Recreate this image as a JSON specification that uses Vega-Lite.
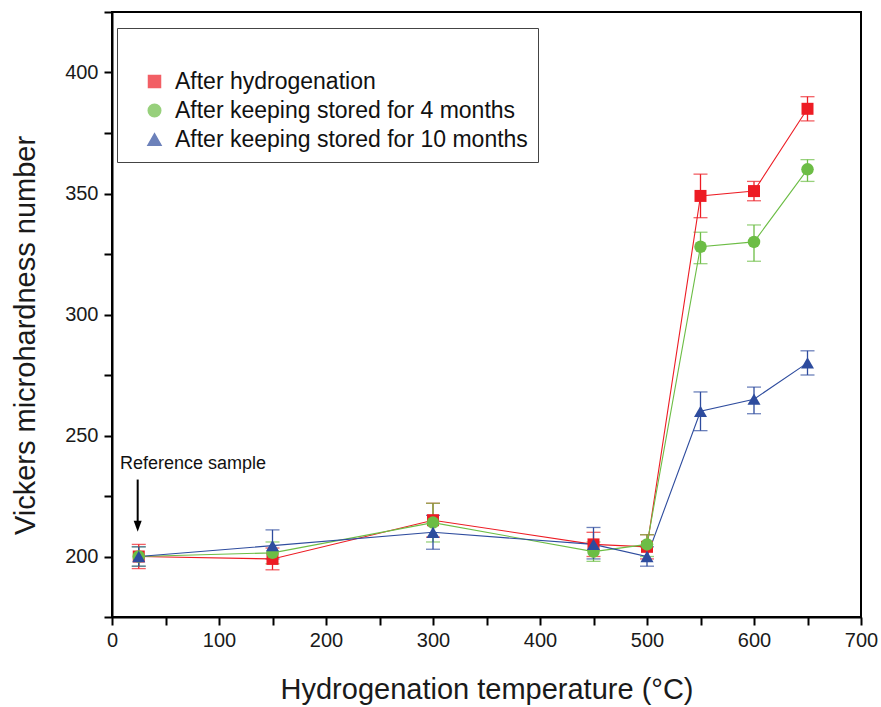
{
  "$schema": "https://vega.github.io/schema/vega-lite/v6.json",
  "width": 749,
  "height": 605,
  "autosize": {"type": "none"},
  "padding": {"left": 112, "top": 12, "right": 20, "bottom": 90},
  "background": "white",
  "config": {
    "font": "Liberation Sans",
    "view": {"stroke": "black", "strokeWidth": 2},
    "axis": {
      "grid": false,
      "domainColor": "black",
      "domainWidth": 2,
      "tickColor": "black",
      "tickWidth": 2,
      "labelColor": "#1a1a1a",
      "titleColor": "#1a1a1a",
      "labelFontSize": 20,
      "titleFontSize": 29,
      "titleFontWeight": "normal",
      "labelFont": "Liberation Sans",
      "titleFont": "Liberation Sans"
    }
  },
  "datasets": {
    "hv": [
      {"series": "After hydrogenation", "temp": 25, "hv": 200, "lo": 195, "hi": 205},
      {"series": "After hydrogenation", "temp": 150, "hv": 199, "lo": 194.5, "hi": 203.5},
      {"series": "After hydrogenation", "temp": 300, "hv": 215, "lo": 208, "hi": 222},
      {"series": "After hydrogenation", "temp": 450, "hv": 205, "lo": 200, "hi": 210},
      {"series": "After hydrogenation", "temp": 500, "hv": 204, "lo": 199, "hi": 209},
      {"series": "After hydrogenation", "temp": 550, "hv": 349, "lo": 340, "hi": 358},
      {"series": "After hydrogenation", "temp": 600, "hv": 351, "lo": 347, "hi": 355},
      {"series": "After hydrogenation", "temp": 650, "hv": 385, "lo": 380, "hi": 390},
      {"series": "After keeping stored for 4 months", "temp": 25, "hv": 200, "lo": 196, "hi": 204},
      {"series": "After keeping stored for 4 months", "temp": 150, "hv": 201.5, "lo": 197, "hi": 206},
      {"series": "After keeping stored for 4 months", "temp": 300, "hv": 214, "lo": 206, "hi": 222},
      {"series": "After keeping stored for 4 months", "temp": 450, "hv": 202, "lo": 198, "hi": 206},
      {"series": "After keeping stored for 4 months", "temp": 500, "hv": 205, "lo": 200, "hi": 209},
      {"series": "After keeping stored for 4 months", "temp": 550, "hv": 328, "lo": 321, "hi": 334},
      {"series": "After keeping stored for 4 months", "temp": 600, "hv": 330, "lo": 322, "hi": 337},
      {"series": "After keeping stored for 4 months", "temp": 650, "hv": 360, "lo": 355, "hi": 364},
      {"series": "After keeping stored for 10 months", "temp": 25, "hv": 200, "lo": 196, "hi": 204},
      {"series": "After keeping stored for 10 months", "temp": 150, "hv": 204.5, "lo": 199, "hi": 211},
      {"series": "After keeping stored for 10 months", "temp": 300, "hv": 210, "lo": 203, "hi": 217},
      {"series": "After keeping stored for 10 months", "temp": 450, "hv": 205, "lo": 199, "hi": 212},
      {"series": "After keeping stored for 10 months", "temp": 500, "hv": 200, "lo": 196, "hi": 204},
      {"series": "After keeping stored for 10 months", "temp": 550, "hv": 260, "lo": 252, "hi": 268},
      {"series": "After keeping stored for 10 months", "temp": 600, "hv": 265, "lo": 259, "hi": 270},
      {"series": "After keeping stored for 10 months", "temp": 650, "hv": 280, "lo": 275, "hi": 285}
    ],
    "note": [
      {"temp": 7.5, "hv": 238.4, "label": "Reference sample"}
    ],
    "arrow": [
      {"temp": 24, "top": 231.8, "bottom": 214.6, "tip": 210.2}
    ]
  },
  "layer": [
    {
      "data": {"name": "hv"},
      "mark": {"type": "errorbar", "ticks": {"size": 14}, "thickness": 1.3},
      "encoding": {
        "x": {
          "field": "temp", "type": "quantitative",
          "scale": {"domain": [0, 700], "nice": false, "zero": false},
          "axis": {
            "title": "Hydrogenation temperature (°C)",
            "values": [0, 50, 100, 150, 200, 250, 300, 350, 400, 450, 500, 550, 600, 650, 700],
            "labelExpr": "datum.value % 100 === 0 ? datum.label : ''",
            "tickSize": 8,
            "labelPadding": 5,
            "titlePadding": 25,
            "labelFlush": false,
            "encode": {"ticks": {"update": {"y2": {"signal": "datum.value % 100 === 0 ? 8 : 4"}}}}
          }
        },
        "y": {
          "field": "lo", "type": "quantitative",
          "scale": {"domain": [175, 425], "nice": false, "zero": false},
          "axis": {
            "title": "Vickers microhardness number",
            "values": [175, 200, 225, 250, 275, 300, 325, 350, 375, 400, 425],
            "labelExpr": "datum.value % 50 === 0 ? datum.label : ''",
            "tickSize": 8,
            "labelPadding": 6,
            "titlePadding": 24,
            "titleY": 323,
            "labelFlush": false,
            "encode": {"ticks": {"update": {"x2": {"signal": "datum.value % 50 === 0 ? -8 : -4"}}}}
          }
        },
        "y2": {"field": "hi"},
        "color": {
          "field": "series", "type": "nominal",
          "scale": {
            "domain": ["After hydrogenation", "After keeping stored for 4 months", "After keeping stored for 10 months"],
            "range": ["#ED1C24", "#6CBD45", "#2E4C9E"]
          }
        }
      }
    },
    {
      "data": {"name": "hv"},
      "mark": {"type": "line", "strokeWidth": 1.1},
      "encoding": {
        "x": {"field": "temp", "type": "quantitative"},
        "y": {"field": "hv", "type": "quantitative", "title": "Vickers microhardness number"},
        "color": {"field": "series", "type": "nominal"}
      }
    },
    {
      "data": {"name": "hv"},
      "mark": {"type": "point", "filled": true, "opacity": 1, "strokeWidth": 0},
      "encoding": {
        "x": {"field": "temp", "type": "quantitative"},
        "y": {"field": "hv", "type": "quantitative", "title": "Vickers microhardness number"},
        "color": {
          "field": "series", "type": "nominal",
          "legend": {
            "orient": "none",
            "legendX": 5,
            "legendY": 16,
            "title": " ",
            "titleFontSize": 24,
            "titlePadding": 8,
            "padding": 10,
            "strokeColor": "#444",
            "fillColor": "white",
            "labelFontSize": 23,
            "labelColor": "#111",
            "labelFont": "Liberation Sans",
            "labelLimit": 700,
            "symbolSize": 100,
            "symbolOffset": 16,
            "labelOffset": 9,
            "rowPadding": 5,
            "labelExpr": "datum.label + '\u00a0\u00a0\u00a0\u00a0\u00a0\u00a0\u00a0\u00a0\u00a0\u00a0'",
            "encode": {
              "legend": {"strokeWidth": {"value": 1.5}},
              "symbols": {
                "shape": {"value": {"expr": "datum.value === 'After hydrogenation' ? 'M-5,0H-1.2M1.2,0H5M-1.2,-1.2H1.2V1.2H-1.2Z' : datum.value === 'After keeping stored for 4 months' ? 'M-5,0H-1.2M1.2,0H5M-1.2,0A1.2,1.2,0,1,0,1.2,0A1.2,1.2,0,1,0,-1.2,0Z' : 'M-5,0H-1.5M1.5,0H5M-1.5,1L1.5,1L0,-1.3Z'"}},
                "size": {"value": 100},
                "fill": {"value": {"expr": "scale('color', datum.value)"}},
                "stroke": {"value": {"expr": "scale('color', datum.value)"}},
                "strokeWidth": {"value": 1},
                "opacity": {"value": 1}
              }
            }
          }
        },
        "shape": {
          "field": "series", "type": "nominal",
          "scale": {
            "domain": ["After hydrogenation", "After keeping stored for 4 months", "After keeping stored for 10 months"],
            "range": ["square", "circle", "triangle-up"]
          },
          "legend": null
        },
        "size": {
          "field": "series", "type": "nominal",
          "scale": {
            "domain": ["After hydrogenation", "After keeping stored for 4 months", "After keeping stored for 10 months"],
            "range": [144, 169, 256]
          },
          "legend": null
        }
      }
    },
    {
      "data": {"name": "note"},
      "mark": {"type": "text", "align": "left", "baseline": "middle", "fontSize": 18, "font": "Liberation Sans", "color": "#111"},
      "encoding": {
        "x": {"field": "temp", "type": "quantitative"},
        "y": {"field": "hv", "type": "quantitative"},
        "text": {"field": "label"}
      }
    },
    {
      "data": {"name": "arrow"},
      "mark": {"type": "rule", "strokeWidth": 2, "color": "black"},
      "encoding": {
        "x": {"field": "temp", "type": "quantitative"},
        "y": {"field": "top", "type": "quantitative"},
        "y2": {"field": "bottom"}
      }
    },
    {
      "data": {"name": "arrow"},
      "mark": {"type": "point", "filled": true, "opacity": 1, "color": "black", "strokeWidth": 0, "size": 121, "shape": "M-0.727,-2L0.727,-2L0,0Z"},
      "encoding": {
        "x": {"field": "temp", "type": "quantitative"},
        "y": {"field": "tip", "type": "quantitative"}
      }
    }
  ]
}
